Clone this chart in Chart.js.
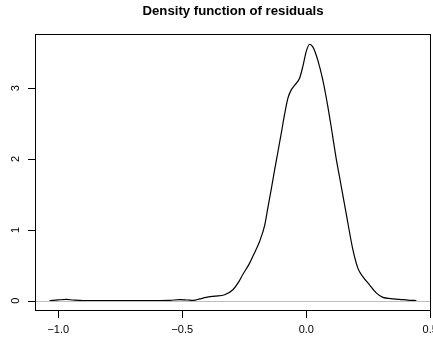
<!DOCTYPE html>
<html>
<head>
<meta charset="utf-8">
<script src="https://cdn.jsdelivr.net/npm/chart.js@4.4.1/dist/chart.umd.min.js"></script>
<style>
  html, body { margin: 0; padding: 0; background: #fff; }
  #wrap { width: 433px; height: 337px; }
</style>
</head>
<body>
<div id="wrap"><canvas id="densityChart" width="433" height="337"></canvas></div>
<script>
// residual values (x) and estimated density (y)
const residuals = [-1.035, -1.0, -0.968, -0.94, -0.9, -0.8, -0.7, -0.6, -0.55, -0.51, -0.48, -0.455,
  -0.43, -0.404, -0.37, -0.329, -0.296, -0.27, -0.256, -0.23, -0.215, -0.188, -0.168, -0.155,
  -0.141, -0.128, -0.114, -0.1, -0.087, -0.074, -0.06, -0.045, -0.027, -0.013, 0.0, 0.013, 0.027,
  0.047, 0.067, 0.087, 0.107, 0.12, 0.134, 0.161, 0.188, 0.208, 0.228, 0.255, 0.282, 0.309,
  0.34, 0.376, 0.41, 0.444];
const density = [0.003, 0.012, 0.018, 0.01, 0.003, 0.002, 0.002, 0.003, 0.006, 0.015, 0.01, 0.006,
  0.025, 0.047, 0.065, 0.085, 0.155, 0.28, 0.37, 0.52, 0.63, 0.84, 1.06, 1.31,
  1.58, 1.84, 2.11, 2.38, 2.64, 2.86, 2.98, 3.05, 3.14, 3.32, 3.52, 3.62, 3.58,
  3.39, 3.11, 2.74, 2.31, 2.02, 1.75, 1.23, 0.72, 0.46, 0.34, 0.225, 0.11, 0.047,
  0.03, 0.02, 0.008, 0.002];
const xTicks = [-1.0, -0.5, 0.0, 0.5];
const yTicks = [0, 1, 2, 3];
const titleText = 'Density function of residuals';

const points = residuals.map((x, i) => ({ x: x, y: density[i] }));

// R style frame, axes and title
const rFrame = {
  id: 'rFrame',
  afterDatasetsDraw(chart) {
    const ctx = chart.ctx;
    const a = chart.chartArea;
    const xs = chart.scales.x, ys = chart.scales.y;
    ctx.save();
    // grey line at zero
    const y0 = Math.round(ys.getPixelForValue(0)) + 0.5;
    ctx.strokeStyle = '#bebebe';
    ctx.lineWidth = 1;
    ctx.beginPath();
    ctx.moveTo(a.left, y0);
    ctx.lineTo(a.right, y0);
    ctx.stroke();
    // box
    ctx.strokeStyle = '#000';
    ctx.lineWidth = 1;
    ctx.strokeRect(a.left + 0.5, a.top + 0.5, a.right - a.left - 1, a.bottom - a.top - 1);
    // x ticks
    ctx.fillStyle = '#000';
    ctx.font = '11px "Liberation Sans", Arial, sans-serif';
    ctx.textAlign = 'center';
    ctx.textBaseline = 'middle';
    ctx.beginPath();
    xTicks.forEach(v => {
      const px = Math.round(xs.getPixelForValue(v)) + 0.5;
      ctx.moveTo(px, a.bottom);
      ctx.lineTo(px, a.bottom + 7);
    });
    ctx.stroke();
    xTicks.forEach(v => {
      const px = xs.getPixelForValue(v);
      ctx.fillText(v.toFixed(1).replace('-', '\u2212'), px, a.bottom + 18.5);
    });
    // y ticks
    ctx.beginPath();
    yTicks.forEach(v => {
      const py = Math.round(ys.getPixelForValue(v)) + 0.5;
      ctx.moveTo(a.left, py);
      ctx.lineTo(a.left - 7, py);
    });
    ctx.stroke();
    yTicks.forEach(v => {
      const py = ys.getPixelForValue(v);
      ctx.save();
      ctx.translate(a.left - 19.5, py);
      ctx.rotate(-Math.PI / 2);
      ctx.fillText(String(v), 0, 0);
      ctx.restore();
    });
    // title
    ctx.font = 'bold 13.2px "Liberation Sans", Arial, sans-serif';
    ctx.fillText(titleText, (a.left + a.right) / 2, 11.5);
    ctx.restore();
  }
};

const densityChart = new Chart(document.getElementById('densityChart').getContext('2d'), {
  type: 'line',
  data: {
    datasets: [{
      data: points,
      borderColor: '#000',
      borderWidth: 1.2,
      pointRadius: 0,
      fill: false,
      cubicInterpolationMode: 'monotone'
    }]
  },
  options: {
    responsive: false,
    animation: false,
    layout: { padding: { top: 34, right: 2, left: 0, bottom: 0 } },
    plugins: { legend: { display: false }, tooltip: { enabled: false } },
    scales: {
      x: {
        type: 'linear',
        min: -1.094,
        max: 0.503,
        ticks: { display: false },
        grid: { display: false },
        border: { display: false },
        afterFit(scale) { scale.height = 26; }
      },
      y: {
        min: -0.145,
        max: 3.765,
        ticks: { display: false },
        grid: { display: false },
        border: { display: false },
        afterFit(scale) { scale.width = 35; }
      }
    }
  },
  plugins: [rFrame]
});
</script>
</body>
</html>
